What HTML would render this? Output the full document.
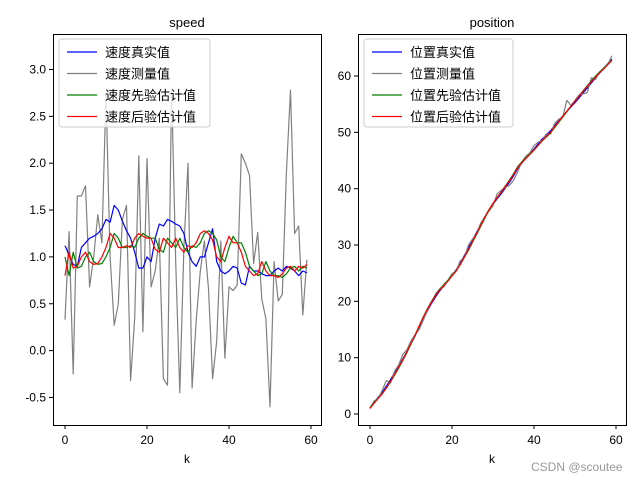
<!DOCTYPE html>
<html><head><meta charset="utf-8"><style>
html,body{margin:0;padding:0;background:#fff;}
svg text{font-family:"Liberation Sans","Noto Sans CJK SC",sans-serif;fill:#000;}
</style></head><body>
<svg id="s" width="640" height="480" xmlns="http://www.w3.org/2000/svg"></svg>
<script>
const S=document.getElementById('s');let h='';
const gray=[0.33,1.27,-0.25,1.65,1.65,1.76,0.68,1.0,1.45,1.15,2.75,1.0,0.27,0.5,1.4,1.55,-0.32,0.35,2.08,0.2,2.05,0.68,0.85,1.2,-0.3,-0.37,2.8,0.95,-0.45,1.1,2.0,-0.4,0.32,0.85,1.17,0.66,-0.3,0.1,1.17,-0.08,0.68,0.64,0.7,2.1,2.0,1.87,0.93,1.26,0.55,0.34,-0.6,0.95,0.53,0.6,1.9,2.78,1.25,1.33,0.38,0.97];
const blue=[1.12,1.02,0.92,0.9,1.1,1.15,1.2,1.22,1.25,1.3,1.4,1.37,1.55,1.5,1.38,1.28,1.2,1.05,0.88,0.88,1.0,0.95,1.2,1.35,1.33,1.4,1.38,1.35,1.33,1.25,1.05,0.95,0.9,1.0,1.0,1.15,1.3,0.95,0.85,0.82,0.85,0.9,0.88,0.72,0.7,0.9,0.85,0.85,0.82,0.8,0.8,0.85,0.88,0.85,0.9,0.88,0.85,0.8,0.85,0.83];
const red=[0.8,1.05,0.88,0.9,1.0,1.05,0.95,0.92,0.93,1.0,1.1,1.25,1.2,1.1,1.1,1.12,1.1,1.2,1.25,1.22,1.2,1.2,1.08,1.05,1.2,1.15,1.1,1.2,1.1,1.05,1.12,1.1,1.15,1.25,1.28,1.25,1.18,1.0,0.95,1.1,1.22,1.15,1.15,1.05,0.9,0.85,0.8,0.82,0.95,0.85,0.8,0.8,0.78,0.82,0.88,0.9,0.85,0.9,0.88,0.92];
const green=[1.0].concat(red.slice(0,59));
function poly(arr,fx,fy,c){return '<polyline fill="none" stroke="'+c+'" stroke-width="1.2" stroke-linejoin="round" points="'+arr.map((v,i)=>fx(i).toFixed(1)+','+fy(v).toFixed(1)).join(' ')+'"/>';}
// left
const lx=i=>65+i*4.1, ly=v=>350.6-v*93.7;
h+='<rect x="53.5" y="34.5" width="268" height="391" fill="none" stroke="#000"/>';
h+='<text x="187" y="27" text-anchor="middle" font-size="13">speed</text>';
for(let v=-0.5;v<=3.01;v+=0.5){let y=ly(v);h+='<line x1="49" x2="53" y1="'+y+'" y2="'+y+'" stroke="#000"/><text x="46" y="'+(y+4)+'" text-anchor="end" font-size="12">'+v.toFixed(1)+'</text>';}
for(let k=0;k<=60;k+=20){let x=lx(k);h+='<line x1="'+x+'" x2="'+x+'" y1="425" y2="429" stroke="#000"/><text x="'+x+'" y="444" text-anchor="middle" font-size="12">'+k+'</text>';}
h+='<text x="187" y="463" text-anchor="middle" font-size="12">k</text>';
h+=poly(gray,lx,ly,'#808080')+poly(blue,lx,ly,'#0000ff')+poly(green,lx,ly,'#008000')+poly(red,lx,ly,'#ff0000');
// right
let pos=[1],s=1;for(let i=1;i<60;i++){s+=blue[i]*1.0;pos.push(s);}
const sc=62/(pos[59]-1);pos=pos.map(p=>1+(p-1)*sc);
const noise=[0,.3,-.2,.4,1,-.6,.3,.2,.8,.3,.5,.2,-.4,-.3,.1,.2,.5,.3,-.2,.1,.3,-.2,.4,-.3,.5,.2,-.2,.3,.1,-.2,-.3,.9,.6,.1,-.5,-.8,-.6,.2,.4,.2,.6,.3,-.3,.2,-.6,.4,.3,-.2,2,.3,.4,.5,-.2,-.8,.9,-.3,.2,.1,-.1,.6];
const meas=pos.map((p,i)=>p+noise[i]);
const rp=pos.map((p,i)=>p-0.3*Math.sin(i/3));
const gp=pos.map((p,i)=>p-0.4*Math.sin((i-1)/3));
const rx=i=>370+i*4.1, ry=v=>414-v*5.633;
h+='<rect x="358.5" y="34.5" width="268" height="391" fill="none" stroke="#000"/>';
h+='<text x="492" y="27" text-anchor="middle" font-size="13">position</text>';
for(let v=0;v<=60;v+=10){let y=ry(v);h+='<line x1="354" x2="358" y1="'+y+'" y2="'+y+'" stroke="#000"/><text x="351" y="'+(y+4)+'" text-anchor="end" font-size="12">'+v+'</text>';}
for(let k=0;k<=60;k+=20){let x=rx(k);h+='<line x1="'+x+'" x2="'+x+'" y1="425" y2="429" stroke="#000"/><text x="'+x+'" y="444" text-anchor="middle" font-size="12">'+k+'</text>';}
h+='<text x="492" y="463" text-anchor="middle" font-size="12">k</text>';
h+=poly(pos,rx,ry,'#0000ff')+poly(meas,rx,ry,'#808080')+poly(gp,rx,ry,'#008000')+poly(rp,rx,ry,'#ff0000');
function legend(x0,w,labels){let r='<rect x="'+x0+'" y="39" width="'+w+'" height="88" rx="3" fill="#fff" fill-opacity="0.8" stroke="#ccc"/>';
const cs=['#0000ff','#808080','#008000','#ff0000'];
labels.forEach((t,i)=>{let y=52+i*21.5;r+='<line x1="'+(x0+8)+'" x2="'+(x0+38)+'" y1="'+y+'" y2="'+y+'" stroke="'+cs[i]+'" stroke-width="1.3"/><text x="'+(x0+46)+'" y="'+(y+5)+'" font-size="13">'+t+'</text>';});return r;}
h+=legend(59,151,['速度真实值','速度测量值','速度先验估计值','速度后验估计值']);
h+=legend(364,149,['位置真实值','位置测量值','位置先验估计值','位置后验估计值']);
h+='<text x="531" y="471" font-size="12" style="fill:#999">CSDN @scoutee</text>';
S.innerHTML=h;
</script>
</body></html>
